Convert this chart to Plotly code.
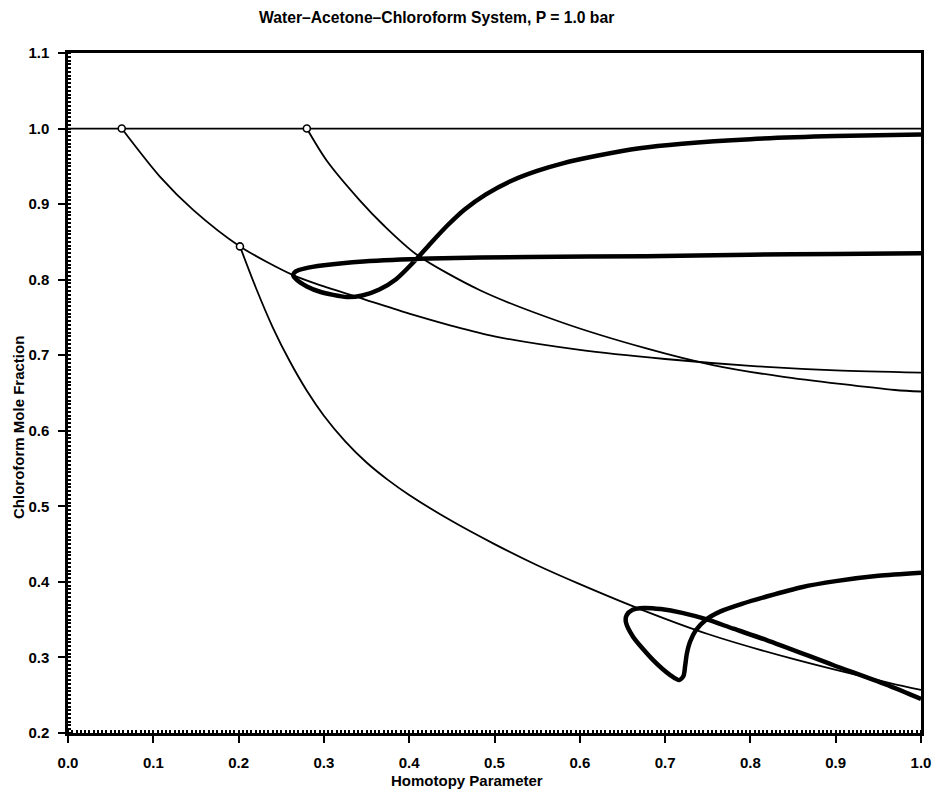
import plotly.graph_objects as go

# ---- data ----
# horizontal reference line
base_x = [0.0, 1.0]
base_y = [1.0, 1.0]

# thin curve A (starts at open circle x=0.063)
a_x = [0.063, 0.108, 0.147, 0.2016, 0.264, 0.30, 0.35, 0.40, 0.45, 0.50, 0.60, 0.70, 0.80, 0.90, 1.00]
a_y = [1.0, 0.936, 0.892, 0.844, 0.806, 0.791, 0.773, 0.755, 0.739, 0.725, 0.707, 0.695, 0.686, 0.680, 0.677]

# thin curve B (starts at open circle x=0.28)
b_x = [0.28, 0.303, 0.342, 0.37, 0.409, 0.483, 0.58, 0.678, 0.756, 0.835, 0.9695, 1.0]
b_y = [1.0, 0.958, 0.905, 0.872, 0.833, 0.786, 0.743, 0.709, 0.687, 0.672, 0.654, 0.652]

# thin curve C (starts at open circle x=0.2016)
c_x = [0.2016, 0.22, 0.24, 0.26, 0.28, 0.30, 0.325, 0.35, 0.375, 0.40, 0.45, 0.50, 0.55,
       0.60, 0.6706, 0.75, 0.85, 0.9625, 1.0]
c_y = [0.844, 0.790, 0.737, 0.692, 0.653, 0.620, 0.586, 0.558, 0.535, 0.515, 0.4805, 0.450, 0.422,
       0.397, 0.364, 0.331, 0.298, 0.2665, 0.257]

# thick curve D (upper homotopy path)
d_x = [1.0, 0.9, 0.8, 0.678, 0.54, 0.424, 0.346, 0.30, 0.278, 0.267, 0.264, 0.268, 0.28, 0.2954,
       0.3267, 0.345, 0.365, 0.385, 0.405, 0.425, 0.445, 0.465, 0.49, 0.52, 0.55, 0.58, 0.62,
       0.67, 0.72, 0.80, 0.90, 1.0]
d_y = [0.835, 0.834, 0.833, 0.831, 0.830, 0.828, 0.824, 0.819, 0.815, 0.811, 0.806, 0.800, 0.791, 0.784,
       0.777, 0.779, 0.787, 0.801, 0.823, 0.848, 0.872, 0.893, 0.913, 0.931, 0.944, 0.954, 0.964,
       0.974, 0.980, 0.986, 0.990, 0.992]

# thick curve E (lower homotopy path)
e_x = [1.0, 0.9637, 0.8968, 0.819, 0.78, 0.75, 0.72, 0.695, 0.675, 0.662, 0.655, 0.654, 0.6624,
       0.686, 0.706, 0.7165, 0.7215, 0.7235, 0.7255, 0.729, 0.736, 0.748, 0.765, 0.79, 0.82, 0.86,
       0.90, 0.95, 1.0]
e_y = [0.245, 0.262, 0.290, 0.323, 0.338, 0.350, 0.359, 0.364, 0.3655, 0.363, 0.356, 0.347, 0.3275,
       0.2965, 0.2767, 0.270, 0.2755, 0.289, 0.305, 0.320, 0.336, 0.350, 0.361, 0.371, 0.381, 0.393,
       0.401, 0.408, 0.412]

# open circle markers (starting points)
pt_x = [0.063, 0.28, 0.2016]
pt_y = [1.0, 1.0, 0.844]

title_text = "Water–Acetone–Chloroform System, P = 1.0 bar"
x_title = "Homotopy Parameter"
y_title = "Chloroform Mole Fraction"

FONT = "Liberation Sans"

fig = go.Figure()
thin = dict(color="black", width=1.8)
thick = dict(color="black", width=4.5)

fig.add_trace(go.Scatter(x=base_x, y=base_y, mode="lines", line=thin))
for xs, ys in [(a_x, a_y), (b_x, b_y), (c_x, c_y)]:
    fig.add_trace(go.Scatter(x=xs, y=ys, mode="lines",
                             line=dict(thin, shape="spline", smoothing=0.8)))
for xs, ys in [(d_x, d_y), (e_x, e_y)]:
    fig.add_trace(go.Scatter(x=xs, y=ys, mode="lines",
                             line=dict(thick, shape="spline", smoothing=0.7)))
fig.add_trace(go.Scatter(x=pt_x, y=pt_y, mode="markers",
                         marker=dict(size=7, color="white", line=dict(color="black", width=1.6)),
                         cliponaxis=False))

axis_common = dict(
    showgrid=False, zeroline=False, showline=True, linecolor="black", linewidth=2.5,
    mirror=True, ticks="outside", ticklen=7, tickwidth=2, tickcolor="black",
    dtick=0.1, tickformat=".1f", automargin=False,
    tickfont=dict(family=FONT, size=15, color="black", weight="bold"),
    minor=dict(ticks="inside", ticklen=3, tickwidth=1.5, tickcolor="black", dtick=0.005),
)

fig.update_layout(
    width=933, height=791,
    margin=dict(l=68, r=12, t=53, b=58),
    paper_bgcolor="white", plot_bgcolor="white",
    showlegend=False,
    xaxis=dict(axis_common, range=[0, 1.0], tick0=0, ticklabelstandoff=7),
    yaxis=dict(axis_common, range=[0.2, 1.1], tick0=0.2, ticklabelstandoff=6),
    annotations=[
        dict(text=title_text, xref="paper", yref="paper", x=(436 - 68) / 853, y=1 + (53 - 18) / 680,
             xanchor="center", yanchor="middle", showarrow=False,
             font=dict(family=FONT, size=15.7, color="black", weight="bold")),
        dict(text=x_title, xref="paper", yref="paper", x=(467 - 68) / 853, y=-(791 - 733) / 680,
             xanchor="center", yanchor="bottom", showarrow=False,
             font=dict(family=FONT, size=15, color="black", weight="bold")),
        dict(text=y_title, xref="paper", yref="paper", x=(18 - 68) / 853, y=(733 - 428) / 680,
             xanchor="center", yanchor="middle", showarrow=False, textangle=-90,
             font=dict(family=FONT, size=15, color="black", weight="bold")),
    ],
)

# remove the page's default body margin so the 933x791 figure fills the window exactly
fig.write_html(
    "out.html",
    config={"displayModeBar": False},
    post_script="document.documentElement.style.overflow='hidden';"
                "document.body.style.margin='0';document.body.style.overflow='hidden';",
)
